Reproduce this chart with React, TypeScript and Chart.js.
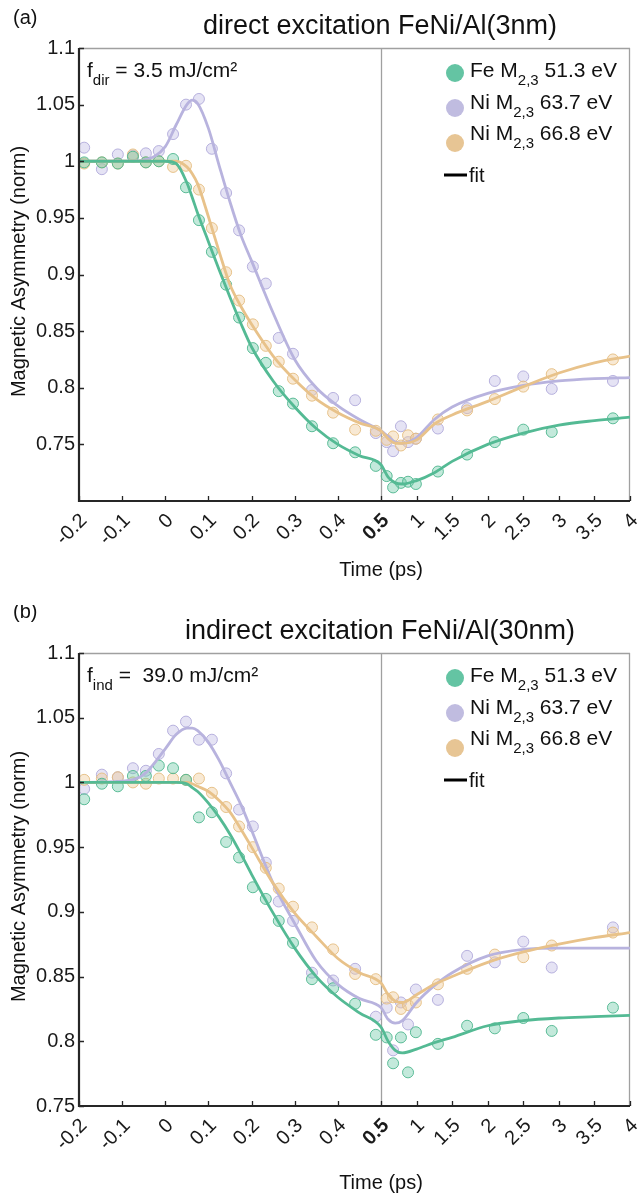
import React, { useEffect, useRef } from 'react';
import { Chart, registerables } from 'chart.js';

Chart.register(...registerables);

// ---------- data ----------
const TIMES = [
  -0.188, -0.147, -0.11, -0.075, -0.045, -0.015, 0.018, 0.048, 0.078, 0.108, 0.141, 0.171, 0.203, 0.233, 0.263,
  0.296, 0.34, 0.389, 0.44, 0.488, 0.58, 0.67, 0.78, 0.88, 0.99, 1.3, 1.71, 2.1, 2.5, 2.9, 3.76,
];

const A_FE = [
  0.999, 0.999, 0.998, 1.004, 0.999, 1.0, 1.002, 0.977, 0.948, 0.92, 0.891, 0.862, 0.835, 0.822, 0.797,
  0.786, 0.766, 0.751, 0.743, 0.731, 0.722, 0.712, 0.716, 0.717, 0.715, 0.726, 0.741, 0.752, 0.763, 0.761, 0.773,
];
const A_NI1 = [
  1.012, 0.993, 1.006, 1.005, 1.007, 1.009, 1.024, 1.05, 1.055, 1.011, 0.972, 0.939, 0.907, 0.892, 0.844,
  0.83, 0.798, 0.791, 0.789, 0.76, 0.752, 0.744, 0.766, 0.752, 0.755, 0.764, 0.782, 0.806, 0.81, 0.799, 0.806,
];
const A_NI2 = [
  0.998, 0.999, 0.998, 1.006, 0.999, 1.0, 0.995, 0.996, 0.975, 0.941, 0.902, 0.877, 0.856, 0.837, 0.823,
  0.808, 0.793, 0.778, 0.763, 0.762, 0.754, 0.757, 0.749, 0.758, 0.755, 0.772, 0.78, 0.79, 0.801, 0.812, 0.825,
];

const B_FE = [
  0.987, 0.999, 0.997, 1.005, 1.005, 1.013, 1.011, 1.002, 0.973, 0.977, 0.954, 0.942, 0.919, 0.91, 0.893,
  0.876, 0.848, 0.841, 0.829, 0.805, 0.803, 0.783, 0.803, 0.776, 0.807, 0.798, 0.812, 0.81, 0.818, 0.808, 0.826,
];
const B_NI1 = [
  0.995, 1.006, 1.004, 1.011, 1.009, 1.022, 1.04, 1.047, 1.033, 1.033, 1.007, 0.979, 0.966, 0.938, 0.908,
  0.893, 0.853, 0.847, 0.856, 0.819, 0.826, 0.793, 0.83, 0.813, 0.84, 0.832, 0.866, 0.861, 0.877, 0.857, 0.888,
];
const B_NI2 = [
  1.002, 1.003, 1.004, 1.0, 0.999, 1.003, 1.003, 1.002, 1.003, 0.992, 0.981, 0.966, 0.95, 0.934, 0.918,
  0.904, 0.888, 0.871, 0.852, 0.848, 0.833, 0.834, 0.825, 0.828, 0.83, 0.844, 0.856, 0.867, 0.865, 0.874, 0.884,
];

const FIT_T = [
  -0.2, -0.1, -0.05, 0, 0.025, 0.05, 0.0625, 0.075, 0.1, 0.125, 0.15, 0.175, 0.2, 0.25, 0.3, 0.35, 0.4, 0.45, 0.5,
  0.6, 0.7, 0.8, 1.0, 1.25, 1.5, 2.0, 2.5, 3.0, 3.5, 4.0,
];
const A_FE_FIT = [
  1.0, 1.0, 1.0, 1.0, 0.998, 0.981, 0.968, 0.954, 0.929, 0.904, 0.88, 0.857, 0.836, 0.806, 0.783, 0.764, 0.75, 0.74, 0.732,
  0.721, 0.716, 0.715, 0.718, 0.725, 0.735, 0.75, 0.76, 0.767, 0.771, 0.774,
];
const A_NI1_FIT = [
  1.0, 1.0, 1.001, 1.013, 1.032, 1.05, 1.054, 1.051, 1.029, 0.996, 0.964, 0.935, 0.912, 0.866, 0.825, 0.8, 0.784, 0.772, 0.762,
  0.757, 0.752, 0.751, 0.756, 0.772, 0.783, 0.795, 0.802, 0.806, 0.808, 0.809,
];
const A_NI2_FIT = [
  1.0, 1.0, 1.0, 1.0, 1.0, 0.995, 0.989, 0.98, 0.951, 0.92, 0.891, 0.872, 0.856, 0.828, 0.807, 0.79, 0.778, 0.769, 0.762,
  0.755, 0.751, 0.751, 0.754, 0.768, 0.776, 0.788, 0.801, 0.813, 0.822, 0.828,
];
const B_FE_FIT = [
  1.0, 1.0, 1.0, 1.0, 1.0, 0.999, 0.996, 0.993, 0.984, 0.973, 0.96, 0.945, 0.929, 0.899, 0.872, 0.85, 0.834, 0.822, 0.811,
  0.8, 0.793, 0.791, 0.794, 0.799, 0.803, 0.812, 0.816, 0.818, 0.819, 0.82,
];
const B_NI1_FIT = [
  1.0, 1.001, 1.006, 1.026, 1.037, 1.042, 1.042, 1.04, 1.031, 1.017, 1.0, 0.983, 0.963, 0.922, 0.891, 0.862, 0.844, 0.833, 0.826,
  0.817, 0.814, 0.816, 0.83, 0.843, 0.853, 0.866, 0.871, 0.872, 0.872, 0.872,
];
const B_NI2_FIT = [
  1.0, 1.0, 1.0, 1.0, 1.0, 1.0, 0.999, 0.997, 0.993, 0.986, 0.977, 0.964, 0.95, 0.922, 0.899, 0.881, 0.864, 0.853, 0.845,
  0.836, 0.831, 0.83, 0.836, 0.844, 0.85, 0.861, 0.869, 0.875, 0.88, 0.884,
];

const X_TICKS = [-0.2, -0.1, 0, 0.1, 0.2, 0.3, 0.4, 0.5, 1, 1.5, 2, 2.5, 3, 3.5, 4];
const X_TICK_LABELS = ['-0.2', '-0.1', '0', '0.1', '0.2', '0.3', '0.4', '0.5', '1', '1.5', '2', '2.5', '3', '3.5', '4'];
const Y_TICKS = [0.75, 0.8, 0.85, 0.9, 0.95, 1, 1.05, 1.1];
const Y_TICK_LABELS = ['0.75', '0.8', '0.85', '0.9', '0.95', '1', '1.05', '1.1'];

const LEGEND_NAMES = ['Fe M', 'Ni M', 'Ni M'];
const LEGEND_SUBS = ['2,3', '2,3', '2,3'];
const LEGEND_ENERGIES = [' 51.3 eV', ' 63.7 eV', ' 66.8 eV'];

// ---------- styling ----------
const FONT = '"Liberation Sans", Arial, Helvetica, sans-serif';
const GREEN = { line: 'rgb(84,186,148)', fill: 'rgba(98,196,160,0.38)', edge: 'rgba(78,182,142,0.9)', dot: 'rgb(100,196,163)' };
const PURPLE = { line: 'rgb(184,179,222)', fill: 'rgba(192,188,228,0.42)', edge: 'rgba(176,170,218,0.9)', dot: 'rgb(192,188,224)' };
const ORANGE = { line: 'rgb(232,194,138)', fill: 'rgba(238,202,152,0.42)', edge: 'rgba(228,188,128,0.9)', dot: 'rgb(231,197,148)' };
const COLORS = [GREEN, PURPLE, ORANGE];

// axis break: linear -0.2..0.5, then compressed linear 0.5..4
const K = 0.1649;
const toU = (t: number) => (t <= 0.5 ? t : 0.5 + (t - 0.5) * K);

type PanelCfg = {
  letter: string;
  letterBase: number;
  title: string;
  fSub: string;
  fText: string;
  yMin: number;
  data: number[][];
  fits: number[][];
  timeY: number;
};

const PANELS: PanelCfg[] = [
  {
    letter: '(a)',
    letterBase: 24,
    title: 'direct excitation FeNi/Al(3nm)',
    fSub: 'dir',
    fText: ' = 3.5 mJ/cm\u00b2',
    yMin: 0.7,
    data: [A_FE, A_NI1, A_NI2],
    fits: [A_FE_FIT, A_NI1_FIT, A_NI2_FIT],
    timeY: 570,
  },
  {
    letter: '(b)',
    letterBase: 13,
    title: 'indirect excitation FeNi/Al(30nm)',
    fSub: 'ind',
    fText: ' =  39.0 mJ/cm\u00b2',
    yMin: 0.75,
    data: [B_FE, B_NI1, B_NI2],
    fits: [B_FE_FIT, B_NI1_FIT, B_NI2_FIT],
    timeY: 578,
  },
];

function drawRich(ctx: CanvasRenderingContext2D, x: number, y: number, parts: { t: string; sub?: boolean }[], size: number, subSize: number) {
  let cx = x;
  for (const p of parts) {
    ctx.font = `${p.sub ? subSize : size}px ${FONT}`;
    ctx.fillText(p.t, cx, p.sub ? y + 8 : y);
    cx += ctx.measureText(p.t).width;
  }
}

function makeDecor(cfg: PanelCfg) {
  return {
    id: 'decor',
    beforeDatasetsDraw(chart: any) {
      const { ctx, chartArea: a, scales } = chart;
      const x = scales.x;
      ctx.save();
      ctx.strokeStyle = '#a0a0a0';
      ctx.lineWidth = 1.3;
      ctx.beginPath();
      ctx.moveTo(a.left, a.top + 0.5);
      ctx.lineTo(a.right, a.top + 0.5);
      ctx.moveTo(a.right - 0.5, a.top);
      ctx.lineTo(a.right - 0.5, a.bottom);
      const xb = Math.round(x.getPixelForValue(0.5)) + 0.5;
      ctx.moveTo(xb, a.top);
      ctx.lineTo(xb, a.bottom);
      ctx.stroke();
      ctx.restore();
    },
    afterDraw(chart: any) {
      const { ctx, chartArea: a, scales } = chart;
      const x = scales.x;
      const y = scales.y;
      ctx.save();
      // axes
      ctx.strokeStyle = '#262626';
      ctx.lineWidth = 2.2;
      ctx.beginPath();
      ctx.moveTo(a.left, a.top);
      ctx.lineTo(a.left, a.bottom);
      ctx.lineTo(a.right, a.bottom);
      ctx.stroke();
      // inward ticks
      ctx.lineWidth = 1.3;
      ctx.beginPath();
      for (const t of X_TICKS) {
        const px = Math.round(x.getPixelForValue(toU(t))) + 0.5;
        ctx.moveTo(px, a.bottom);
        ctx.lineTo(px, a.bottom - 5);
      }
      for (const v of Y_TICKS) {
        const py = Math.round(y.getPixelForValue(v)) + 0.5;
        ctx.moveTo(a.left, py);
        ctx.lineTo(a.left + 5, py);
      }
      ctx.stroke();

      ctx.fillStyle = '#111';
      ctx.textBaseline = 'alphabetic';
      ctx.textAlign = 'left';
      // panel letter
      ctx.font = `20px ${FONT}`;
      ctx.fillText(cfg.letter, 13, cfg.letterBase);
      // title
      ctx.font = `27px ${FONT}`;
      ctx.textAlign = 'center';
      ctx.fillText(cfg.title, 380, 34);
      // x-axis title
      ctx.font = `20px ${FONT}`;
      ctx.textBaseline = 'middle';
      ctx.fillText('Time (ps)', 381, cfg.timeY);
      // y-axis title
      ctx.save();
      ctx.translate(19, (a.top + a.bottom) / 2 - 3);
      ctx.rotate(-Math.PI / 2);
      ctx.fillText('Magnetic Asymmetry (norm)', 0, 0);
      ctx.restore();

      ctx.textAlign = 'left';
      ctx.textBaseline = 'alphabetic';
      // fluence annotation
      drawRich(ctx, 87, a.top + 29, [{ t: 'f' }, { t: cfg.fSub, sub: true }, { t: cfg.fText }], 21, 15);

      // legend
      const rowsDot = [25, 60, 95];
      const rowsText = [29, 61, 92];
      for (let i = 0; i < 3; i++) {
        ctx.fillStyle = COLORS[i].dot;
        ctx.beginPath();
        ctx.arc(455, a.top + rowsDot[i], 9, 0, Math.PI * 2);
        ctx.fill();
        ctx.fillStyle = '#111';
        drawRich(
          ctx,
          470,
          a.top + rowsText[i],
          [{ t: LEGEND_NAMES[i] }, { t: LEGEND_SUBS[i], sub: true }, { t: LEGEND_ENERGIES[i] }],
          21,
          15
        );
      }
      ctx.strokeStyle = '#000';
      ctx.lineWidth = 3;
      ctx.beginPath();
      ctx.moveTo(444, a.top + 127);
      ctx.lineTo(467, a.top + 127);
      ctx.stroke();
      ctx.font = `20px ${FONT}`;
      ctx.fillText('fit', 469, a.top + 134);
      ctx.restore();
    },
  };
}

function Panel({ cfg, top }: { cfg: PanelCfg; top: number }) {
  const ref = useRef<HTMLCanvasElement>(null);
  useEffect(() => {
    if (!ref.current) return;
    const lineOrder = [0, 2, 1];
    const fitSets = lineOrder.map((i) => ({
      type: 'line' as const,
      data: FIT_T.map((t, j) => ({ x: toU(t), y: cfg.fits[i][j] })),
      borderColor: COLORS[i].line,
      borderWidth: 2.8,
      pointRadius: 0,
      showLine: true,
      fill: false,
      cubicInterpolationMode: 'monotone' as const,
    }));
    const pointSets = lineOrder.map((i) => ({
      type: 'scatter' as const,
      data: TIMES.map((t, j) => ({ x: toU(t), y: cfg.data[i][j] })),
      backgroundColor: COLORS[i].fill,
      borderColor: COLORS[i].edge,
      borderWidth: 1,
      pointRadius: 5.5,
      showLine: false,
    }));
    const chart = new Chart(ref.current, {
      type: 'scatter',
      data: { datasets: [...fitSets, ...pointSets] as any },
      options: {
        responsive: false,
        animation: false,
        devicePixelRatio: 1,
        layout: { padding: { left: 0, right: 11, top: 48, bottom: 0 } },
        plugins: { legend: { display: false }, tooltip: { enabled: false }, title: { display: false } },
        scales: {
          x: {
            type: 'linear',
            min: -0.2,
            max: toU(4),
            grid: { display: false, drawTicks: false },
            border: { display: false },
            afterBuildTicks: (s: any) => {
              s.ticks = X_TICKS.map((t) => ({ value: toU(t) }));
            },
            afterFit: (s: any) => {
              s.height = 89;
              s.paddingLeft = 0;
              s.paddingRight = 0;
            },
            ticks: {
              autoSkip: false,
              minRotation: 45,
              maxRotation: 45,
              padding: 8,
              labelOffset: 5,
              color: '#1a1a1a',
              font: (c: any) => ({
                family: FONT,
                size: 20,
                weight: c.tick && Math.abs(c.tick.value - 0.5) < 1e-9 ? 'bold' : 'normal',
              }),
              callback: (_v: any, i: number) => X_TICK_LABELS[i],
            },
          },
          y: {
            type: 'linear',
            min: cfg.yMin,
            max: 1.1,
            grid: { display: false, drawTicks: false },
            border: { display: false },
            afterBuildTicks: (s: any) => {
              s.ticks = Y_TICKS.map((v) => ({ value: v }));
            },
            afterFit: (s: any) => {
              s.width = 79;
              s.paddingTop = 0;
              s.paddingBottom = 0;
            },
            ticks: {
              padding: 4,
              color: '#1a1a1a',
              font: { family: FONT, size: 20 },
              callback: (_v: any, i: number) => Y_TICK_LABELS[i],
            },
          },
        },
      },
      plugins: [makeDecor(cfg)],
    });
    return () => chart.destroy();
  }, [cfg]);
  return (
    <canvas
      ref={ref}
      width={641}
      height={590}
      style={{ position: 'absolute', left: 0, top, width: 641, height: 590, display: 'block' }}
    />
  );
}

export default function App() {
  return (
    <div style={{ position: 'absolute', left: 0, top: 0, width: 641, height: 1195, background: '#fff', overflow: 'hidden' }}>
      <Panel cfg={PANELS[0]} top={0} />
      <Panel cfg={PANELS[1]} top={605} />
    </div>
  );
}
